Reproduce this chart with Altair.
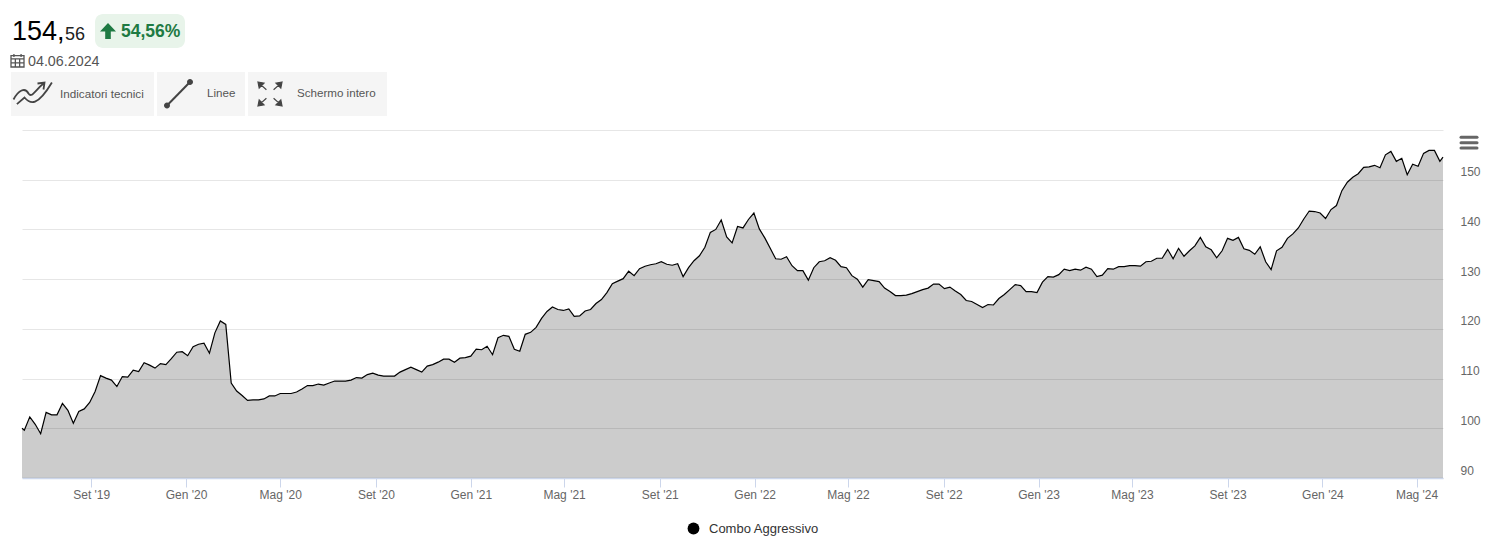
import altair as alt
import pandas as pd

SERIES_NAME = "Combo Aggressivo"
first_value = [100.0]
last_value = [154.56]
friday_values = [
    99.6, 102.3, 100.8, 98.9, 103.2, 102.7, 102.7, 105.0, 103.6, 101.0,
    103.4, 103.9, 105.2, 107.4, 110.6, 110.1, 109.7, 108.4, 110.4, 110.3,
    111.7, 111.4, 113.2, 112.7, 112.1, 113.0, 112.8, 114.0, 115.3, 115.4,
    114.6, 116.4, 116.9, 117.1, 115.1, 119.2, 121.6, 120.9, 109.1, 107.5,
    106.6, 105.6, 105.7, 105.7, 105.9, 106.5, 106.5, 107.0, 107.0, 107.0,
    107.3, 107.9, 108.6, 108.6, 108.9, 108.7, 109.1, 109.5, 109.5, 109.5,
    109.7, 110.2, 110.1, 110.8, 111.1, 110.7, 110.5, 110.5, 110.5, 111.3,
    111.8, 112.3, 111.8, 111.3, 112.5, 112.8, 113.3, 113.9, 113.9, 113.3,
    114.1, 114.2, 114.5, 115.9, 115.8, 116.5, 114.8, 118.2, 118.7, 118.5,
    115.9, 115.5, 118.9, 119.3, 120.3, 122.1, 123.5, 124.4, 123.9, 123.7,
    124.0, 122.5, 122.6, 123.6, 123.9, 125.1, 125.9, 127.3, 129.1, 129.6,
    130.1, 131.6, 130.7, 132.1, 132.6, 132.9, 133.1, 133.5, 133.0, 132.8,
    133.1, 130.5, 132.3, 133.7, 134.7, 136.4, 139.4, 140.0, 141.9, 138.5,
    137.3, 140.6, 140.3, 142.0, 143.3, 140.1, 138.3, 136.2, 134.1, 134.0,
    134.5, 132.7, 131.7, 131.7, 129.8, 132.3, 133.5, 133.7, 134.3, 133.8,
    132.5, 132.3, 130.7, 130.0, 128.4, 129.9, 129.7, 129.5, 128.2, 127.5,
    126.7, 126.7, 126.8, 127.1, 127.5, 127.9, 128.2, 129.0, 129.0, 128.1,
    128.4, 127.6, 126.9, 125.7, 125.5, 124.9, 124.3, 124.9, 124.8, 126.1,
    126.9, 127.9, 128.9, 128.7, 127.5, 127.5, 127.3, 129.4, 130.5, 130.4,
    130.9, 132.0, 131.7, 132.0, 131.8, 132.4, 132.0, 130.5, 130.8, 132.1,
    132.0, 132.5, 132.5, 132.7, 132.7, 132.6, 133.5, 133.6, 134.2, 134.2,
    136.0, 134.1, 136.2, 134.6, 135.7, 136.7, 138.4, 136.5, 135.9, 134.3,
    135.7, 138.2, 137.8, 138.4, 136.1, 135.8, 135.0, 136.5, 133.5, 131.9,
    135.7, 136.4, 138.2, 139.1, 140.3, 142.1, 143.7, 143.6, 143.3, 142.2,
    144.0, 144.8, 147.8, 149.5, 150.5, 151.2, 152.5, 152.6, 152.9, 152.4,
    155.0, 155.7, 153.7, 154.3, 151.0, 153.1, 152.7, 155.3, 155.9, 155.9,
    153.7,
]
y_ticks = [90, 100, 110, 120, 130, 140, 150, 160]
y_floor = 90
x_tick_dates = [
    "2019-09-01", "2020-01-01", "2020-05-01", "2020-09-01", "2021-01-01",
    "2021-05-01", "2021-09-01", "2022-01-01", "2022-05-01", "2022-09-01",
    "2023-01-01", "2023-05-01", "2023-09-01", "2024-01-01", "2024-05-01",
]

fridays = pd.date_range("2019-06-07", periods=len(friday_values), freq="7D")
dates = [pd.Timestamp("2019-06-04")] + list(fridays) + [pd.Timestamp("2024-06-04")]
values = first_value + friday_values + last_value
df = pd.DataFrame({"date": [d.strftime("%Y-%m-%d") for d in dates],
                   "value": values, "series": SERIES_NAME})

FONT = "Liberation Sans"
ms = lambda s: int(pd.Timestamp(s, tz="UTC").timestamp() * 1000)

x_enc = alt.X(
    "date:T",
    scale=alt.Scale(type="utc", domain=[ms("2019-06-04"), ms("2024-06-04")], nice=False),
    axis=alt.Axis(
        title=None, values=[ms(d) for d in x_tick_dates], grid=False,
        labelExpr="(utcmonth(datum.value)==0?'Gen':utcmonth(datum.value)==4?'Mag':'Set')+\" '\"+utcFormat(datum.value,'%y')",
        labelColor="#666666", labelFontSize=12, labelFont=FONT, labelPadding=2,
        labelOverlap=False, labelFlush=False,
        domainColor="#ccd6eb", domainWidth=1.5, tickColor="#ccd6eb", tickSize=9, tickWidth=1,
    ),
)
y_enc = alt.Y(
    "value:Q",
    scale=alt.Scale(domain=[90, 160], nice=False, zero=False),
    axis=alt.Axis(
        title=None, orient="right", values=y_ticks, domain=False, ticks=False, grid=True,
        gridColor="#e6e6e6", gridWidth=1,
        labelExpr="datum.value==160?'':datum.value",
        labelColor="#666666", labelFontSize=12, labelFont=FONT,
        labelPadding=17, labelOffset=-8, labelAlign="left",
    ),
)

base = alt.Chart(df)
area = base.mark_area(color="#000000", opacity=0.2).encode(x=x_enc, y=y_enc, y2=alt.Y2(datum=y_floor))
line = base.mark_line(strokeWidth=1.2).encode(
    x=x_enc, y=y_enc,
    color=alt.Color(
        "series:N",
        scale=alt.Scale(range=["#000000"]),
        legend=alt.Legend(
            title=None, orient="none", legendX=665, legendY=392,
            symbolType="circle", symbolSize=140, symbolFillColor="#000000",
            symbolStrokeColor="#000000", symbolStrokeWidth=0,
            labelFont=FONT, labelFontSize=13, labelColor="#333333", labelOffset=9,
        ),
    ),
)

one = pd.DataFrame({"a": [0]})
OX, OY = 22, 130  # page position of the plot origin


def text(s, x, y, size, color, weight="normal", baseline="alphabetic"):
    return alt.Chart(one).mark_text(
        align="left", baseline=baseline, font=FONT, fontSize=size, color=color, fontWeight=weight
    ).encode(x=alt.value(x - OX), y=alt.value(y - OY), text=alt.value(s))


def box(x0, x1, y0, y1, fill, radius=0):
    return alt.Chart(one).mark_rect(fill=fill, cornerRadius=radius).encode(
        x=alt.value(x0 - OX), x2=alt.value(x1 - OX), y=alt.value(y0 - OY), y2=alt.value(y1 - OY)
    )


def seg(x0, y0, x1, y1, color, w, cap="butt"):
    return alt.Chart(one).mark_rule(color=color, strokeWidth=w, strokeCap=cap).encode(
        x=alt.value(x0 - OX), x2=alt.value(x1 - OX), y=alt.value(y0 - OY), y2=alt.value(y1 - OY)
    )


def icon(path, cx, cy, side, fill=None, stroke=None, w=1):
    kw = dict(shape=path, size=side * side, opacity=1, strokeWidth=w)
    if fill:
        kw.update(filled=True, fill=fill)
    else:
        kw.update(filled=False, fill="transparent")
    kw["stroke"] = stroke if stroke else "transparent"
    return alt.Chart(one).mark_point(**kw).encode(x=alt.value(cx - OX), y=alt.value(cy - OY))


ARROW_UP = "M0,-1L1,0.05L0.35,0.05L0.35,1L-0.35,1L-0.35,0.05L-1,0.05Z"
CALENDAR = "M-1,-0.75H1V1H-1Z M-1,-0.25H1 M-1,0.37H1 M-0.33,-0.25V1 M0.33,-0.25V1 M-0.55,-1V-0.55 M0.55,-1V-0.55"
WAVES = ("M-0.95,0.3C-0.7,-0.17,-0.37,-0.33,-0.2,0C-0.03,0.25,0.13,-0.17,0.55,-0.5"
         "M0.25,-0.5L0.6,-0.55L0.55,-0.2"
         "M-0.78,0.53L-0.4,0.2C-0.1,0.55,0.25,0.65,0.97,-0.55")
FULLSCREEN = ("M-1,-1L-0.5,-0.9L-0.9,-0.5Z M-0.8,-0.8L-0.3,-0.35"
              "M1,-1L0.5,-0.9L0.9,-0.5Z M0.8,-0.8L0.3,-0.35"
              "M-1,1L-0.5,0.9L-0.9,0.5Z M-0.8,0.8L-0.3,0.35"
              "M1,1L0.5,0.9L0.9,0.5Z M0.8,0.8L0.3,0.35")

decor = [
    text("154,", 12, 40, 27, "#000000"),
    text("56", 65, 40, 18, "#222222"),
    box(95, 185, 14, 48, "#e8f4ea", 8),
    icon(ARROW_UP, 108, 31, 16, fill="#1e7a43"),
    text("54,56%", 121, 37, 17.5, "#1e7a43", "bold"),
    icon(CALENDAR, 17.5, 60.5, 13, stroke="#555555", w=1.3),
    text("04.06.2024", 28, 66, 14.3, "#555555"),
    box(11, 154, 72, 116, "#f5f5f5"),
    box(157, 245, 72, 116, "#f5f5f5"),
    box(248, 387, 72, 116, "#f5f5f5"),
    icon(WAVES, 32.5, 93.5, 40, stroke="#444444", w=1.8),
    text("Indicatori tecnici", 60, 94, 11.7, "#555555", baseline="middle"),
    seg(167, 105.5, 190, 82, "#444444", 2),
    icon("M-1,0A1,1,0,1,1,1,0A1,1,0,1,1,-1,0Z", 167, 105.5, 6, fill="#444444"),
    icon("M-1,0A1,1,0,1,1,1,0A1,1,0,1,1,-1,0Z", 190, 82, 6, fill="#444444"),
    text("Linee", 207, 94, 11.6, "#555555", baseline="middle"),
    icon(FULLSCREEN, 270, 94, 24, fill="#444444", stroke="#444444", w=1.2),
    text("Schermo intero", 297, 94, 11.6, "#555555", baseline="middle"),
    seg(1461, 137.3, 1477, 137.3, "#666666", 3, "round"),
    seg(1461, 142.7, 1477, 142.7, "#666666", 3, "round"),
    seg(1461, 148, 1477, 148, "#666666", 3, "round"),
]

chart = alt.layer(area, line, *decor).properties(
    width=1421, height=348,
    padding={"left": 14, "top": 122, "right": 45, "bottom": 58},
    autosize=alt.AutoSizeParams(type="none"),
    background="#ffffff",
).configure_view(stroke=None)

chart.save("out.html", embed_options={"renderer": "svg", "actions": False})
